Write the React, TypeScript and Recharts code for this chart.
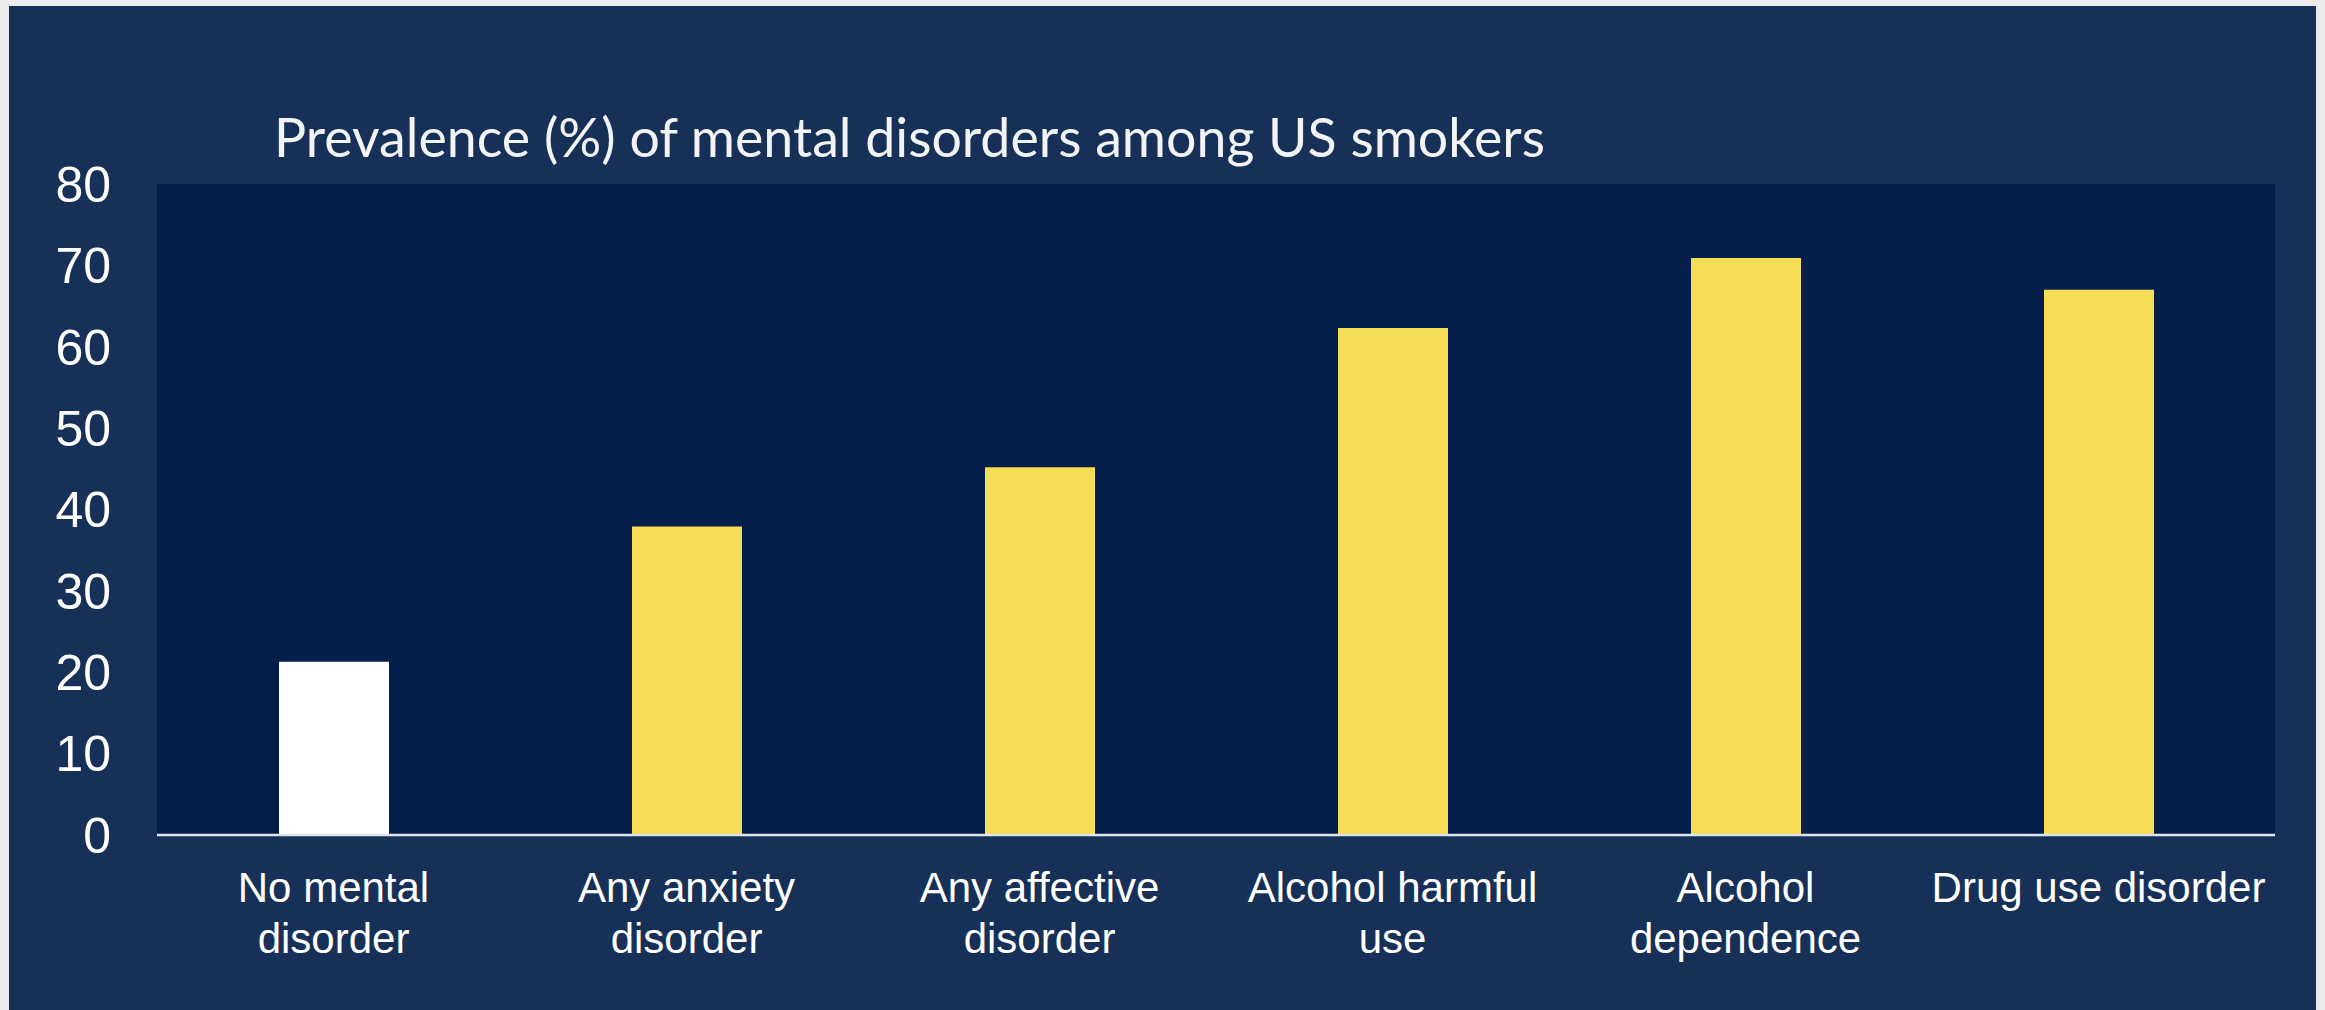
import React from 'react';
import { BarChart, Bar, XAxis, YAxis, CartesianGrid, Cell } from 'recharts';

// --- Data ---
const CATEGORIES = [
  'No mental\ndisorder',
  'Any anxiety\ndisorder',
  'Any affective\ndisorder',
  'Alcohol harmful\nuse',
  'Alcohol\ndependence',
  'Drug use disorder',
];
const PREVALENCE = [21.3, 37.9, 45.2, 62.3, 70.9, 67.0];
const Y_TICKS = [0, 10, 20, 30, 40, 50, 60, 70, 80];
const TITLE = 'Prevalence (%) of mental disorders among US smokers';

const data = CATEGORIES.map((name, i) => ({ name, value: PREVALENCE[i] }));

const COLORS = {
  PAGE: '#ececec',
  PANEL: '#173058',
  PLOT: '#051f4a',
  BASELINE_BAR: '#ffffff', // reference group
  BAR: '#f5dd55',
  TEXT: '#ffffff',
  AXIS: '#dfe3ea',
};

const W = 2325;
const H = 1010;
const SANS = '"Liberation Sans", Arial, sans-serif';

// two-line category labels, split on \n
const CategoryTick = (props: any) => {
  const { x, y, payload } = props;
  const lines = String(payload.value).split('\n');
  return (
    <text x={x} y={y} textAnchor="middle" fill={COLORS.TEXT} fontSize={42} fontFamily={SANS}>
      {lines.map((line: string, i: number) => (
        <tspan key={i} x={x} dy={i === 0 ? 67 : 51}>{line}</tspan>
      ))}
    </text>
  );
};

export default function App() {
  return (
    <div style={{ position: 'absolute', left: 0, top: 0, width: W, height: H, background: COLORS.PAGE, overflow: 'hidden' }}>
      <div style={{ position: 'absolute', left: 9, top: 6, width: 2307, height: H - 6, background: COLORS.PANEL }} />
      <div
        style={{
          position: 'absolute',
          left: 274,
          top: 110,
          fontFamily: 'Lato, sans-serif',
          fontSize: 53.7,
          lineHeight: 1,
          color: '#f2f3f5',
          whiteSpace: 'nowrap',
        }}
      >
        {TITLE}
      </div>
      <div style={{ position: 'absolute', left: 0, top: 0 }}>
        <BarChart width={W} height={H} data={data} margin={{ top: 184, right: 50, left: 0, bottom: 0 }}>
          <CartesianGrid horizontal={false} vertical={false} fill={COLORS.PLOT} stroke="none" />
          <XAxis
            dataKey="name"
            interval={0}
            height={175}
            tickLine={false}
            tickSize={0}
            tickMargin={0}
            axisLine={{ stroke: COLORS.AXIS, strokeWidth: 2.5 }}
            tick={<CategoryTick />}
          />
          <YAxis
            domain={[0, 80]}
            ticks={Y_TICKS}
            width={157}
            axisLine={false}
            tickLine={false}
            tickSize={0}
            tickMargin={46}
            tick={{ fill: COLORS.TEXT, fontSize: 50, fontFamily: SANS }}
          />
          <Bar dataKey="value" barSize={110} isAnimationActive={false}>
            {data.map((d, i) => (
              <Cell key={d.name} fill={i === 0 ? COLORS.BASELINE_BAR : COLORS.BAR} />
            ))}
          </Bar>
        </BarChart>
      </div>
    </div>
  );
}
